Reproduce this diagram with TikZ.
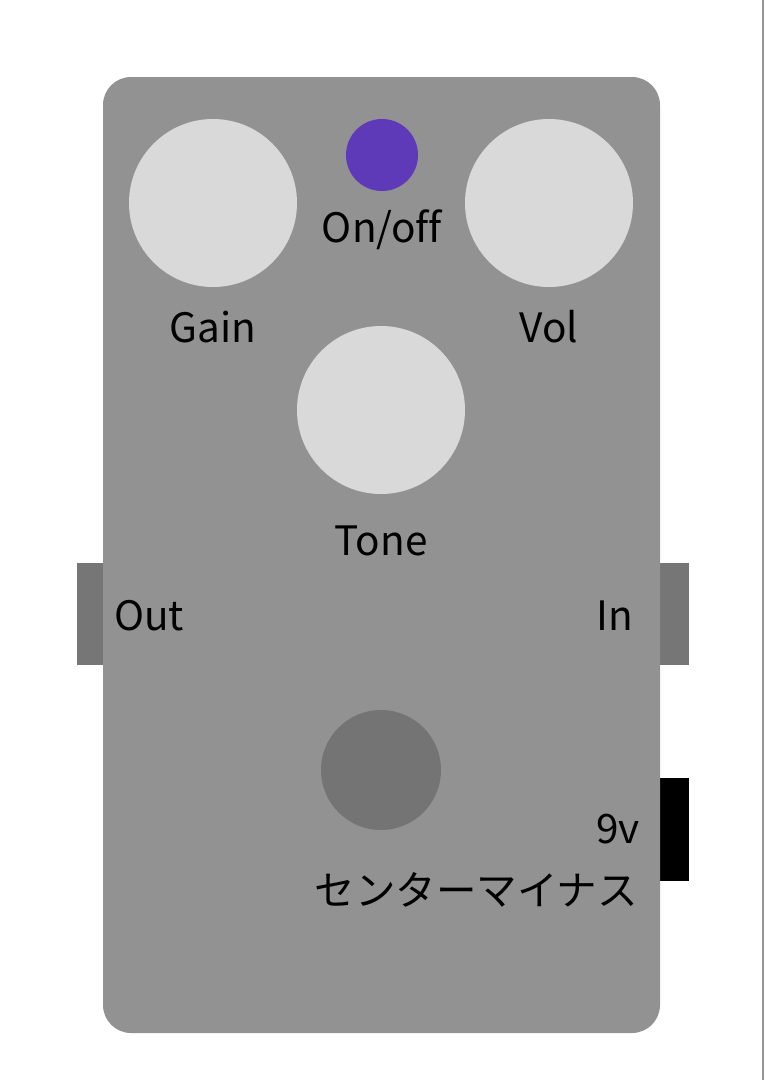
\documentclass[tikz,border=0pt]{standalone}
\usepackage{fontspec}
\setmainfont[Ligatures=NoCommon]{Noto Sans CJK JP}
\definecolor{bodygray}{RGB}{146,146,146}
\definecolor{knobgray}{RGB}{217,217,217}
\definecolor{jackgray}{RGB}{118,118,118}
\definecolor{ledpurple}{RGB}{95,58,184}
\definecolor{switchgray}{RGB}{116,116,116}
\definecolor{edgegray}{RGB}{150,150,150}
\begin{document}
\begin{tikzpicture}[x=1pt,y=-1pt,
  knob/.style={circle,fill=knobgray,inner sep=0pt,minimum size=168pt},
  lbl/.style={anchor=base,inner sep=0pt,font=\fontsize{40.5}{48}\selectfont,text=black},
  jack/.style={fill=jackgray}]
\useasboundingbox (0,0) rectangle (764,1080);
\fill[white] (0,0) rectangle (764,1080);
\draw[edgegray,line width=1.5pt] (763,0) -- (763,1080);
% jacks
\fill[jack] (77,563) rectangle (103,665);
\fill[jack] (660,563) rectangle (689,665);
\fill[black] (660,778) rectangle (689,881);
% body
\fill[bodygray,rounded corners=28pt] (103,77) rectangle (660,1033);
% knobs
\node[knob] (gain) at (213,203) {};
\node[knob] (vol) at (549,203) {};
\node[knob] (tone) at (381,410) {};
\node[circle,fill=ledpurple,inner sep=0pt,minimum size=72pt] (led) at (382,155) {};
\node[circle,fill=switchgray,inner sep=0pt,minimum size=120pt] (sw) at (381,770) {};
% labels
\node[lbl] (lonoff) at (382,242) {On/off};
\node[lbl] (lgain) at (213,342) {Gain};
\node[lbl] (lvol) at (549,342) {Vol};
\node[lbl] (ltone) at (381,555) {Tone};
\node[lbl,anchor=base west] (lout) at (114,630) {Out};
\node[lbl,anchor=base east] (lin) at (633,630) {In};
\node[lbl,anchor=base east] (l9v) at (640,843) {9v};
\node[lbl,anchor=base east] (lcm) at (638,905) {センターマイナス};
\end{tikzpicture}
\end{document}
